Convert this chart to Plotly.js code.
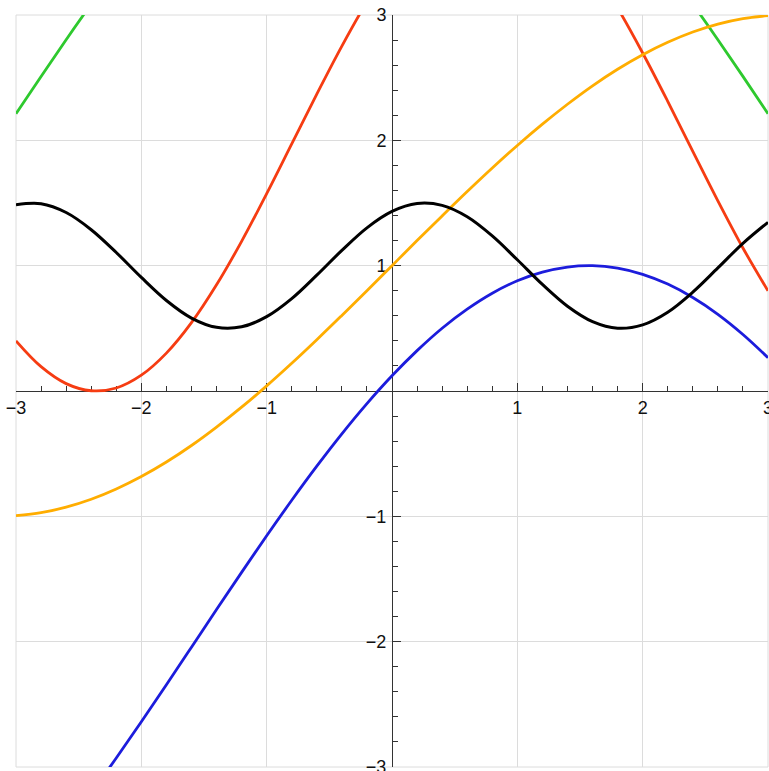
<!DOCTYPE html>
<html>
<head>
<meta charset="utf-8">
<script src="https://cdn.plot.ly/plotly-3.0.1.min.js"></script>
<style>html,body{margin:0;padding:0;background:#fff;}#chart{width:769px;height:771px;}</style>
</head>
<body>
<div id="chart"></div>
<script>
const xs = [-3,-2.8,-2.6,-2.4,-2.2,-2,-1.8,-1.6,-1.4,-1.2,-1,-0.8,-0.6,-0.4,-0.2,0,0.2,0.4,0.6,0.8,1,1.2,1.4,1.6,1.8,2,2.2,2.4,2.6,2.8,3];
const blueY = [null,null,-3.477,-3.208,-2.928,-2.639,-2.343,-2.044,-1.744,-1.447,-1.155,-0.872,-0.600,-0.342,-0.101,0.121,0.322,0.501,0.653,0.780,0.879,0.948,0.989,1.000,0.980,0.931,0.853,0.746,0.612,0.451,0.266];
const orangeY = [-0.995,-0.971,-0.927,-0.864,-0.782,-0.683,-0.567,-0.435,-0.288,-0.129,0.041,0.221,0.409,0.603,0.800,1.000,1.200,1.397,1.591,1.779,1.959,2.129,2.288,2.435,2.567,2.683,2.782,2.864,2.927,2.971,2.995];
const greenY = [2.212,2.510,2.803,3.087,3.361,3.621,null,null,null,null,null,null,null,null,null,null,null,null,null,null,null,null,null,null,null,3.621,3.361,3.087,2.803,2.510,2.212];
const redY = [0.400,0.194,0.059,0.002,0.024,0.126,0.302,0.545,0.847,1.194,1.574,1.971,2.369,2.752,3.105,3.414,null,null,null,null,null,null,null,3.372,3.056,2.697,2.311,1.912,1.517,1.141,0.799];
const blackY = [1.486,1.494,1.424,1.287,1.105,0.906,0.722,0.582,0.508,0.512,0.593,0.737,0.924,1.122,1.302,1.433,1.496,1.481,1.390,1.237,1.047,0.850,0.676,0.553,0.501,0.528,0.629,0.789,0.982,1.178,1.346];
const tickVals = [-3,-2,-1,0,1,2,3];
const tickText = ['\u22123','\u22122','\u22121','','1','2','3'];

function tr(y, color, w) {
  return {x: xs, y: y, type: 'scatter', mode: 'lines', connectgaps: false,
    line: {color: color, width: w, shape: 'spline', smoothing: 1}, hoverinfo: 'skip'};
}
const data = [
  tr(greenY, '#2ec92e', 2.8),
  tr(redY, '#f63c12', 2.8),
  tr(orangeY, '#ffad00', 2.8),
  tr(blueY, '#1c1cdc', 2.8),
  tr(blackY, '#000000', 3)
];
const axisCommon = {
  range: [-3, 3], tickmode: 'array', tickvals: tickVals, ticktext: tickText,
  showgrid: true, gridcolor: '#dcdcdc', gridwidth: 1, zeroline: false,
  showline: true, linecolor: '#333333', linewidth: 1,
  ticks: 'inside', ticklen: 8, tickwidth: 1, tickcolor: '#333333',
  ticklabeloverflow: 'allow',
  tickfont: {family: 'Liberation Sans', size: 18, color: '#111'},
  minor: {tickmode: 'linear', tick0: 0, dtick: 0.2, ticks: 'inside', ticklen: 5, tickwidth: 1, tickcolor: '#333333', showgrid: false},
  anchor: 'free', position: 0.5, layer: 'below traces', fixedrange: true
};
const layout = {
  width: 769, height: 771,
  margin: {l: 16, r: 1, t: 15, b: 4, pad: 0},
  paper_bgcolor: '#ffffff', plot_bgcolor: '#ffffff',
  showlegend: false,
  xaxis: Object.assign({}, axisCommon, {side: 'bottom', ticklabelstandoff: 0}),
  yaxis: Object.assign({}, axisCommon, {side: 'left', ticklabelstandoff: 2}),
  shapes: [{type: 'rect', xref: 'paper', yref: 'paper', x0: 0, x1: 1, y0: 0, y1: 1,
    line: {color: '#dcdcdc', width: 1}, layer: 'below'}]
};
Plotly.newPlot('chart', data, layout, {staticPlot: true, displayModeBar: false});
</script>
</body>
</html>
